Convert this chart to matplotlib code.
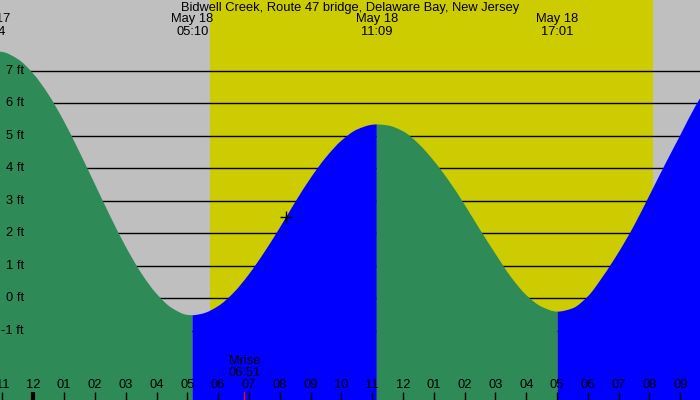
import numpy as np
import matplotlib
matplotlib.use("Agg")
import matplotlib.pyplot as plt
from matplotlib.path import Path
from matplotlib.patches import PathPatch

plt.rcParams['font.family'] = ['Liberation Sans', 'DejaVu Sans']

TITLE = "Bidwell Creek, Route 47 bridge, Delaware Bay, New Jersey"

# hours counted from midnight, May 18
reading_hours = list(np.arange(-1.0, 22.01, 0.5))
reading_ft = [7.58, 7.36, 6.91, 6.26, 5.44, 4.50, 3.51, 2.52, 1.59, 0.78,
              0.14, -0.30, -0.51, -0.47, -0.24, 0.17, 0.74, 1.42, 2.17, 2.96,
              3.70, 4.34, 4.85, 5.19, 5.34, 5.32, 5.14, 4.76, 4.23, 3.60,
              2.88, 2.11, 1.37, 0.66, 0.10, -0.26, -0.41, -0.31, 0.06, 0.69,
              1.42, 2.24, 3.17, 4.11, 5.02, 5.93, 6.70]

# high / low tide events
event_hours = [-1.433, 5.167, 11.15, 17.017]
event_ft = [7.62, -0.52, 5.35, -0.41]
event_day = ["May 17", "May 18", "May 18", "May 18"]
event_time = ["22:34", "05:10", "11:09", "17:01"]

sunrise_h = 5.735
sunset_h = 20.12
moonrise_h = 6.85
moonrise_lbl = "06:51"
now_h, now_ft = 8.20, 2.51

hour_ticks = list(range(-1, 22))
hour_labels = ["11", "12", "01", "02", "03", "04", "05", "06", "07", "08", "09",
               "10", "11", "12", "01", "02", "03", "04", "05", "06", "07", "08", "09"]
ft_levels = [-1, 0, 1, 2, 3, 4, 5, 6, 7]

GRAY = "#bfbfbf"
YELLOW = "#cccc00"
GREEN = "#2e8b57"
BLUE = "#0000ff"


def monotone_slopes(x, y):
    """Fritsch-Carlson tangents so the drawn curve stays flat at highs/lows."""
    dx = np.diff(x)
    d = np.diff(y) / dx
    m = np.zeros_like(y)
    m[0], m[-1] = d[0], d[-1]
    for k in range(1, len(y) - 1):
        if d[k - 1] * d[k] > 0:
            w1 = 2 * dx[k] + dx[k - 1]
            w2 = dx[k] + 2 * dx[k - 1]
            m[k] = (w1 + w2) / (w1 / d[k - 1] + w2 / d[k])
    return m


# pixel layout of the original: 30.81 px per hour, 32.5 px per foot
x0, x1 = -33.3 / 30.81, (700 - 33.3) / 30.81
y0, y1 = (298.3 - 400) / 32.5, 298.3 / 32.5

fig = plt.figure(figsize=(7, 4), dpi=100)
ax = fig.add_axes([0, 0, 1, 1])
ax.set_xlim(x0, x1)
ax.set_ylim(y0, y1)
ax.axis('off')
fig.patch.set_facecolor(GRAY)

ax.axvspan(sunrise_h, sunset_h, color=YELLOW, zorder=0, lw=0)

for lvl in ft_levels:
    ax.axhline(lvl, color='black', lw=1, zorder=1)

# merge readings with events and fill each rising / falling stretch
t = np.array(reading_hours + event_hours, dtype=float)
h = np.array(reading_ft + event_ft, dtype=float)
order = np.argsort(t)
t, h = t[order], h[order]
slopes = monotone_slopes(t, h)

bounds = event_hours + [float(t[-1])]
for i in range(len(bounds) - 1):
    a, b = bounds[i], bounds[i + 1]
    idx = np.where((t >= a - 1e-9) & (t <= b + 1e-9))[0]
    verts = [(t[idx[0]], y0), (t[idx[0]], h[idx[0]])]
    codes = [Path.MOVETO, Path.LINETO]
    for j, k in zip(idx[:-1], idx[1:]):
        step = (t[k] - t[j]) / 3
        verts += [(t[j] + step, h[j] + slopes[j] * step),
                  (t[k] - step, h[k] - slopes[k] * step),
                  (t[k], h[k])]
        codes += [Path.CURVE4] * 3
    verts += [(t[idx[-1]], y0), (t[idx[0]], y0)]
    codes += [Path.LINETO, Path.CLOSEPOLY]
    if i + 1 < len(event_ft):
        rising = event_ft[i + 1] > event_ft[i]
    else:
        rising = event_ft[i] < event_ft[i - 1]
    ax.add_patch(PathPatch(Path(verts, codes), facecolor=BLUE if rising else GREEN,
                           lw=0, zorder=2))

ax.plot([now_h], [now_ft], marker='+', color='black', ms=9, mew=1, zorder=4)

fs = 9.3
for lvl in ft_levels:
    ax.text(x0 + 24 / 30.81, lvl, f"{lvl} ft", ha='right', va='center',
            fontsize=fs, zorder=5)

ax.text(0.5, 1 - 8 / 400, TITLE, transform=ax.transAxes, ha='center',
        va='center', fontsize=fs, zorder=5)

for eh, d, tm in zip(event_hours, event_day, event_time):
    ax.text(eh, y1 - 19 / 32.5, d, ha='center', va='center', fontsize=fs, zorder=5)
    ax.text(eh, y1 - 31.5 / 32.5, tm, ha='center', va='center', fontsize=fs, zorder=5)

for hr, lbl in zip(hour_ticks, hour_labels):
    ax.text(hr, y0 + 14.5 / 32.5, lbl, ha='center', va='center', fontsize=fs, zorder=5)
    ax.plot([hr, hr], [y0, y0 + 8.5 / 32.5], color='black',
            lw=3 if hr == 0 else 1, zorder=5, solid_capstyle='butt')

ax.plot([moonrise_h, moonrise_h], [y0, y0 + 8.5 / 32.5], color='red', lw=1, zorder=5)
ax.text(moonrise_h, y0 + 38.5 / 32.5, "Mrise", ha='center', va='center', fontsize=fs, zorder=5)
ax.text(moonrise_h, y0 + 27 / 32.5, moonrise_lbl, ha='center', va='center', fontsize=fs, zorder=5)

fig.savefig("out.png", dpi=100, facecolor=GRAY)
